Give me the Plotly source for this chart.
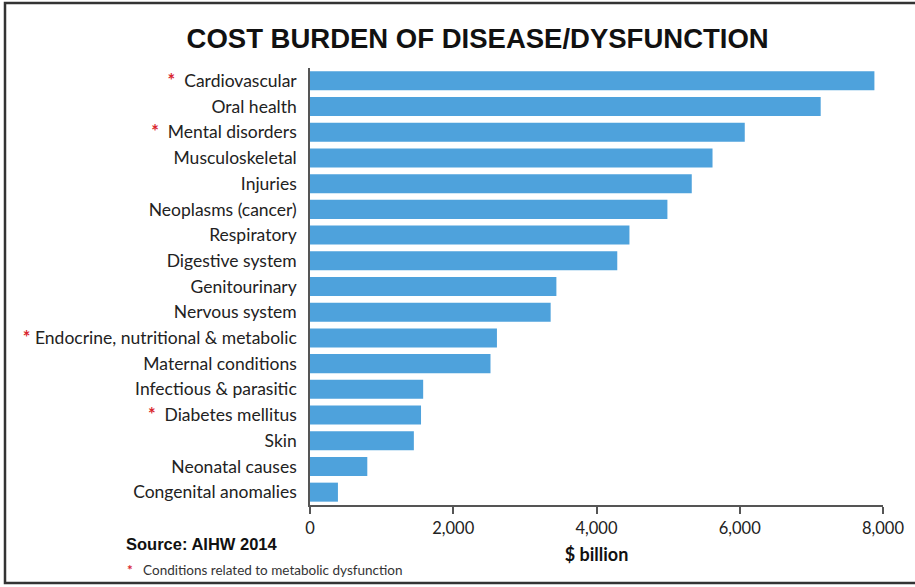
import plotly.graph_objects as go

categories = ["Cardiovascular", "Oral health", "Mental disorders", "Musculoskeletal", "Injuries",
              "Neoplasms (cancer)", "Respiratory", "Digestive system", "Genitourinary", "Nervous system",
              "Endocrine, nutritional & metabolic", "Maternal conditions", "Infectious & parasitic",
              "Diabetes mellitus", "Skin", "Neonatal causes", "Congenital anomalies"]
values = [7880, 7130, 6070, 5620, 5330, 4990, 4460, 4290, 3440, 3360, 2610, 2520, 1580, 1550, 1450, 800, 390]
metabolic = [True, False, True, False, False, False, False, False, False, False, True, False, False,
             True, False, False, False]
x_ticks = [0, 2000, 4000, 6000, 8000]
x_tick_labels = ["0", "2,000", "4,000", "6,000", "8,000"]

L, R, T, B = 310, 32, 68, 82
W, H = 915, 587
PW, PH = W - L - R, H - T - B


def px(x):
    return (x - L) / PW


def py(y):
    return (H - B - y) / PH


STAR = "<span style='color:#d9262e;font-size:18px'><b>*</b></span>"
tick_text = [(STAR + "  " + c) if m else c for c, m in zip(categories, metabolic)]
tick_text[10] = STAR + " " + categories[10]

fig = go.Figure(go.Bar(
    x=values, y=categories, orientation="h",
    marker=dict(color="#4EA2DC", line=dict(width=0)),
    width=0.74,
))

fig.update_layout(
    width=W, height=H,
    margin=dict(l=L, r=R, t=T, b=B),
    paper_bgcolor="white", plot_bgcolor="white",
    showlegend=False,
    font=dict(family="Lato, Open Sans, sans-serif", size=15, color="#222"),
    title=dict(text="<b>COST BURDEN OF DISEASE/DYSFUNCTION</b>", x=0.522, xanchor="center",
               y=0.935, yanchor="middle",
               font=dict(family="Liberation Sans, Arial, sans-serif", size=27.5, color="#111")),
    xaxis=dict(range=[0, 8000], tickvals=x_ticks, ticktext=x_tick_labels, showgrid=False,
               zeroline=False, showline=True, linecolor="#555", linewidth=1.5,
               ticks="outside", ticklen=7, tickcolor="#555", tickwidth=1.5,
               tickfont=dict(size=16.5, color="#222"),
               title=dict(text="<b>$ billion</b>", font=dict(size=18, color="#111"), standoff=12)),
    yaxis=dict(categoryorder="array", categoryarray=categories, autorange=False,
               range=[len(categories) - 0.5, -0.5],
               tickvals=categories, ticktext=tick_text, showgrid=False, zeroline=False,
               showline=True, linecolor="#555", linewidth=1.5, ticks="", ticklabelstandoff=8,
               tickfont=dict(size=17.5, color="#222")),
    shapes=[dict(type="rect", xref="paper", yref="paper", x0=px(5), x1=px(960), y0=py(583), y1=py(3),
                 line=dict(color="#333", width=2.5), fillcolor="rgba(0,0,0,0)", layer="above")],
    annotations=[
        dict(text="<b>Source: AIHW 2014</b>", xref="paper", yref="paper", x=px(124), y=py(544),
             xanchor="left", yanchor="middle", showarrow=False,
             font=dict(family="Liberation Sans, Arial, sans-serif", size=16.5, color="#111")),
        dict(text="<span style='color:#d9262e'><b>*</b></span>   Conditions related to metabolic dysfunction",
             xref="paper", yref="paper", x=px(125), y=py(570), xanchor="left", yanchor="middle",
             showarrow=False, font=dict(family="Lato, Open Sans, sans-serif", size=13.5, color="#333")),
    ],
)

fig.write_html("out.html")
